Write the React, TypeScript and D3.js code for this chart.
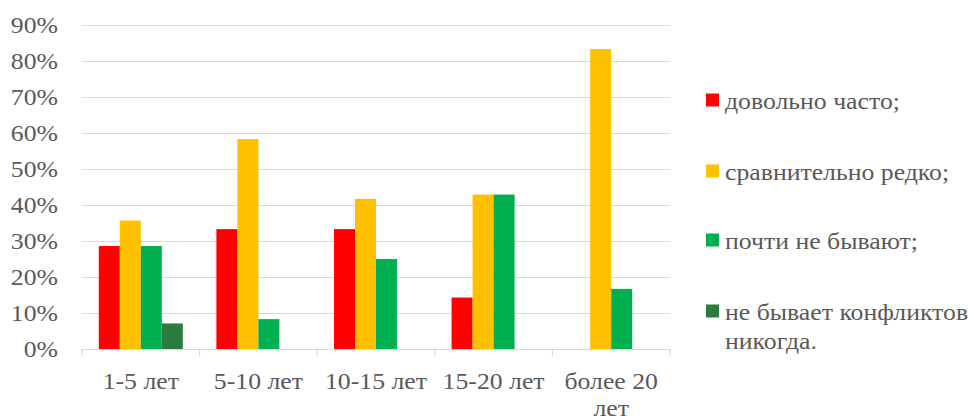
import React from "react";
import * as d3 from "d3";

const categories = ["1-5 лет", "5-10 лет", "10-15 лет", "15-20 лет", "более 20 лет"];
const seriesNames = ["довольно часто;", "сравнительно редко;", "почти не бывают;", "не бывает конфликтов никогда."];
const seriesColors = ["#FF0000", "#FFC000", "#00B050", "#2A7D3E"];
const often = [28.6, 33.3, 33.3, 14.3, 0];
const rarely = [35.7, 58.3, 41.7, 42.9, 83.3];
const almostNever = [28.6, 8.3, 25.0, 42.9, 16.7];
const never = [7.1, 0, 0, 0, 0];
const yTicks = [0, 10, 20, 30, 40, 50, 60, 70, 80, 90];

const W = 975;
const H = 419;
const FONT = "Times New Roman, Liberation Serif, serif";
const TEXT = "#595959";
const FS = 23;
const SX = 1.12;

let ctx: CanvasRenderingContext2D | null = null;
function measure(s: string): number {
  if (!ctx) {
    const c = document.createElement("canvas");
    ctx = c.getContext("2d");
  }
  if (!ctx) return s.length * FS * 0.45 * SX;
  ctx.font = `${FS}px "Times New Roman", serif`;
  return ctx.measureText(s).width * SX;
}

function wrap(text: string, maxW: number): string[] {
  const words = text.split(" ");
  const lines: string[] = [];
  let cur: string[] = [];
  words.forEach((w) => {
    const trial = [...cur, w].join(" ");
    if (cur.length > 0 && measure(trial) > maxW) {
      lines.push(cur.join(" "));
      cur = [w];
    } else {
      cur.push(w);
    }
  });
  if (cur.length) lines.push(cur.join(" "));
  return lines;
}

export default function App() {
  const left = 82, right = 670, top = 25, bottom = 349;
  const x = d3.scaleBand<string>().domain(categories).range([left, right]).padding(0);
  const inner = d3.scaleBand<string>().domain(seriesNames).range([0, x.bandwidth()]).paddingInner(0).paddingOuter(0.8);
  const y = d3.scaleLinear().domain([0, 90]).range([bottom, top]);
  const allSeries = [often, rarely, almostNever, never];
  const bounds = categories.map((c) => x(c) as number).concat([right]);
  const legendY = [100, 171, 240, 311];
  const textStyle = { fontFamily: FONT, fontSize: FS };

  return (
    <svg width={W} height={H} style={{ position: "absolute", left: 0, top: 0, background: "#fff" }}>
      <g>
        {yTicks.filter((t) => t > 0).map((t) => (
          <line key={t} x1={left} x2={right} y1={Math.round(y(t)) + 0.5} y2={Math.round(y(t)) + 0.5}
            stroke="#D9D9D9" strokeWidth={1.2} />
        ))}
      </g>
      <g>
        {yTicks.map((t) => (
          <text key={t} transform={`translate(58,${y(t)}) scale(${SX},1)`} dy="0.35em" textAnchor="end"
            fill={TEXT} style={textStyle}>{`${t}%`}</text>
        ))}
      </g>
      {allSeries.map((vals, si) => (
        <g key={si}>
          {vals.map((v, i) => (
            <rect key={i}
              x={(x(categories[i]) as number) + (inner(seriesNames[si]) as number)}
              width={inner.bandwidth()}
              y={y(v)} height={bottom - y(v)} fill={seriesColors[si]} />
          ))}
        </g>
      ))}
      <line x1={left} x2={right} y1={bottom + 0.5} y2={bottom + 0.5} stroke="#D9D9D9" strokeWidth={1.2} />
      {bounds.map((b, i) => (
        <line key={i} x1={b} x2={b} y1={bottom} y2={bottom + 7} stroke="#D9D9D9" strokeWidth={1.2} />
      ))}
      {categories.map((c) => {
        const cx = (x(c) as number) + x.bandwidth() / 2;
        const lines = wrap(c, x.bandwidth() - 2);
        return (
          <text key={c} transform={`translate(${cx},389) scale(${SX},1)`} textAnchor="middle" fill={TEXT} style={textStyle}>
            {lines.map((l, li) => (
              <tspan key={li} x={0} dy={li === 0 ? 0 : 27}>{l}</tspan>
            ))}
          </text>
        );
      })}
      {seriesNames.map((name, i) => {
        const lines = name === "не бывает конфликтов никогда." ? ["не бывает конфликтов", "никогда."] : [name];
        return (
          <g key={name}>
            <rect x={706} y={legendY[i] - 6.5} width={13} height={13} fill={seriesColors[i]} />
            <text transform={`translate(725,${legendY[i] + 8.5}) scale(${SX},1)`} fill={TEXT} style={textStyle}>
              {lines.map((l, li) => (
                <tspan key={li} x={0} dy={li === 0 ? 0 : 30}>{l}</tspan>
              ))}
            </text>
          </g>
        );
      })}
    </svg>
  );
}
